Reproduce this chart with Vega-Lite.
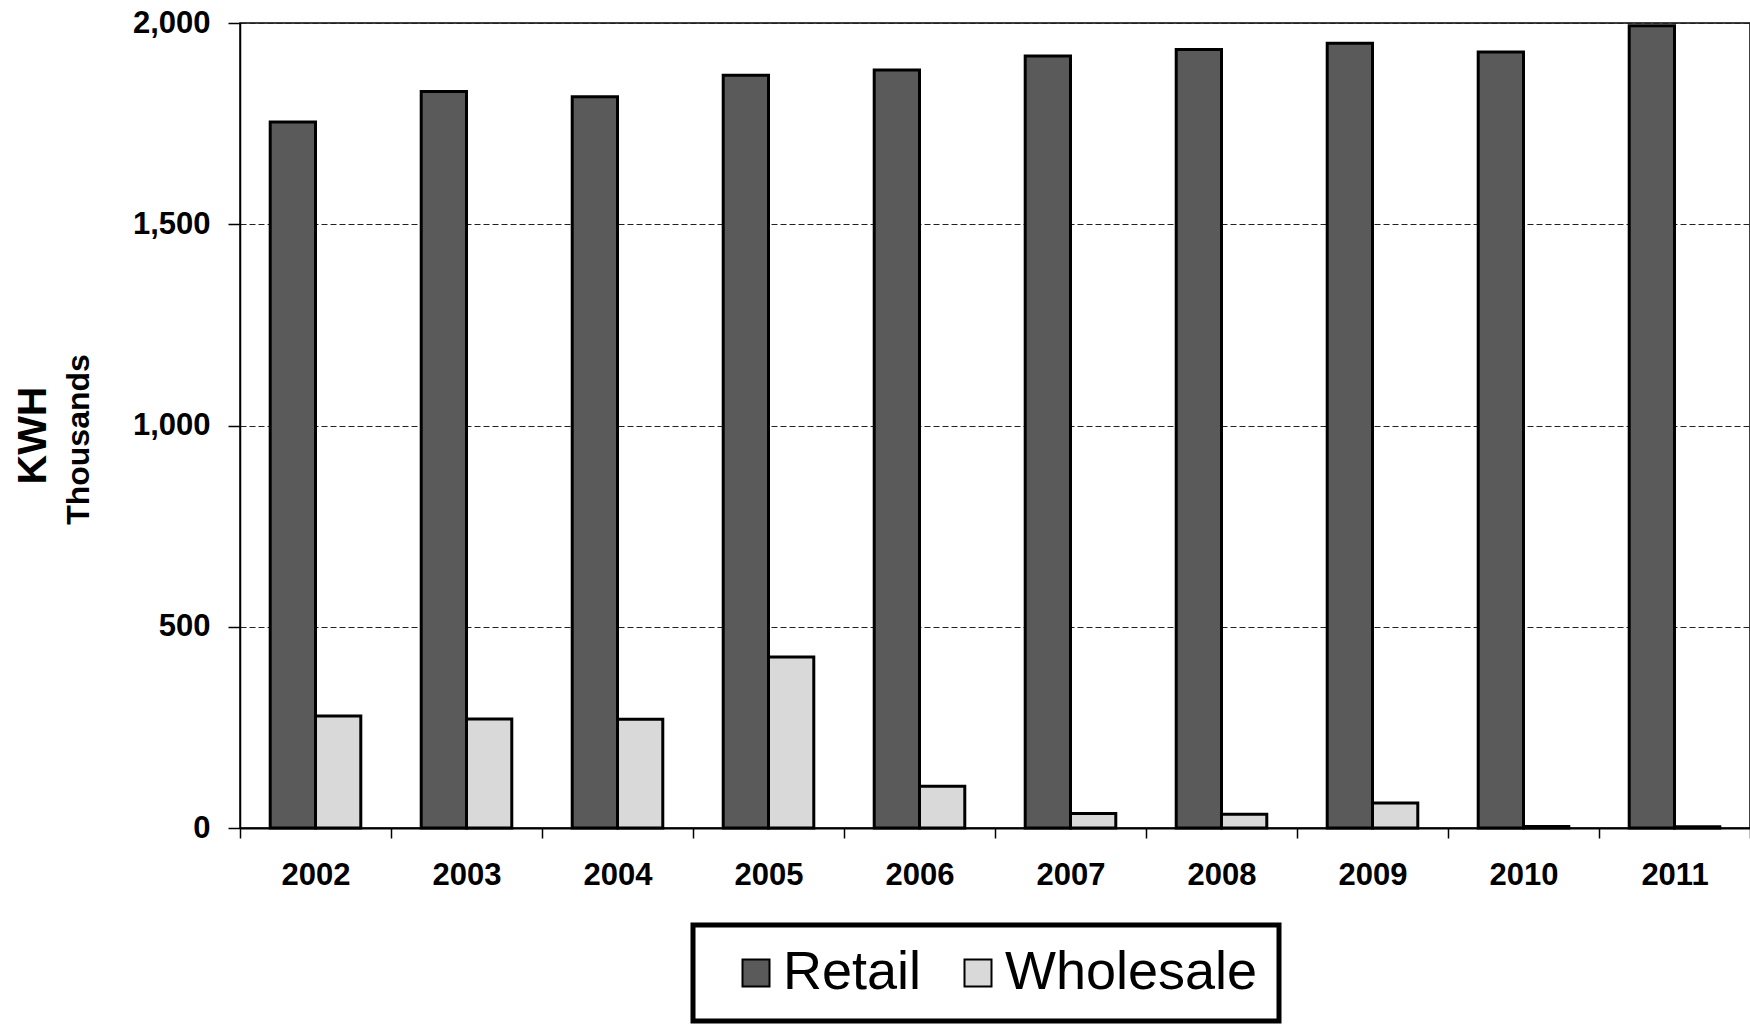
{
  "$schema": "https://vega.github.io/schema/vega-lite/v6.json",
  "autosize": {"type": "none"},
  "padding": {"left": 240, "top": 23, "right": 0, "bottom": 204},
  "width": 1510,
  "height": 805,
  "background": "white",
  "config": {
    "font": "Liberation Sans",
    "view": {"stroke": "black", "strokeWidth": 1.5},
    "axis": {"domainColor": "black", "tickColor": "black", "labelColor": "black", "titleColor": "black"}
  },
  "data": {
    "values": [
      {"year": "2002", "type": "Retail", "kwh": 1754},
      {"year": "2002", "type": "Wholesale", "kwh": 278},
      {"year": "2003", "type": "Retail", "kwh": 1830},
      {"year": "2003", "type": "Wholesale", "kwh": 271},
      {"year": "2004", "type": "Retail", "kwh": 1817},
      {"year": "2004", "type": "Wholesale", "kwh": 270},
      {"year": "2005", "type": "Retail", "kwh": 1870},
      {"year": "2005", "type": "Wholesale", "kwh": 425},
      {"year": "2006", "type": "Retail", "kwh": 1883},
      {"year": "2006", "type": "Wholesale", "kwh": 104},
      {"year": "2007", "type": "Retail", "kwh": 1918},
      {"year": "2007", "type": "Wholesale", "kwh": 36},
      {"year": "2008", "type": "Retail", "kwh": 1934},
      {"year": "2008", "type": "Wholesale", "kwh": 34},
      {"year": "2009", "type": "Retail", "kwh": 1950},
      {"year": "2009", "type": "Wholesale", "kwh": 62},
      {"year": "2010", "type": "Retail", "kwh": 1928},
      {"year": "2010", "type": "Wholesale", "kwh": 4},
      {"year": "2011", "type": "Retail", "kwh": 1993},
      {"year": "2011", "type": "Wholesale", "kwh": 3}
    ]
  },
  "encoding": {
    "x": {
      "field": "year",
      "type": "nominal",
      "scale": {"paddingInner": 0, "paddingOuter": 0},
      "axis": {
        "title": null,
        "labelAngle": 0,
        "tickBand": "extent",
        "tickSize": 10,
        "tickWidth": 1.5,
        "domainWidth": 2,
        "labelFontSize": 31,
        "labelFontWeight": "bold",
        "labelPadding": 22
      }
    },
    "xOffset": {
      "field": "type",
      "scale": {"domain": ["Retail", "Wholesale"], "paddingInner": 0, "paddingOuter": 0.667}
    },
    "y": {
      "field": "kwh",
      "type": "quantitative",
      "scale": {"domain": [0, 2000], "nice": false}
    }
  },
  "layer": [
    {
      "mark": {"type": "bar", "stroke": "black", "strokeWidth": 3},
      "encoding": {
        "y": {
          "field": "kwh",
          "type": "quantitative",
          "axis": {
            "orient": "left",
            "values": [0, 500, 1000, 1500, 2000],
            "format": ",.0f",
            "grid": true,
            "gridColor": "#222222",
            "gridDash": [6, 3],
            "gridWidth": 1,
            "domainWidth": 1.5,
            "tickSize": 12,
            "tickWidth": 1.5,
            "labelFontSize": 31,
            "labelFontWeight": "bold",
            "labelPadding": 18,
            "title": "Thousands",
            "titleFontSize": 32,
            "titleFontWeight": "bold",
            "titlePadding": 37,
            "titleY": 416
          }
        },
        "color": {
          "field": "type",
          "type": "nominal",
          "scale": {"domain": ["Retail", "Wholesale"], "range": ["#5a5a5a", "#d9d9d9"]},
          "legend": {
            "title": null,
            "orient": "none",
            "direction": "horizontal",
            "legendX": 453,
            "legendY": 902,
            "strokeColor": "black",
            "padding": 21,
            "symbolType": "square",
            "symbolSize": 729,
            "symbolOffset": 15,
            "symbolStrokeColor": "black",
            "symbolStrokeWidth": 2,
            "symbolOpacity": 1,
            "labelFontSize": 54,
            "labelFont": "Liberation Sans",
            "labelColor": "black",
            "labelLimit": 500,
            "labelOffset": 0,
            "columnPadding": 14,
            "encode": {
              "legend": {"update": {"strokeWidth": {"value": 5}}}
            }
          }
        }
      }
    },
    {
      "mark": {"type": "bar", "opacity": 0},
      "encoding": {
        "y": {
          "field": "kwh",
          "type": "quantitative",
          "axis": {
            "orient": "left",
            "labels": false,
            "ticks": false,
            "domain": false,
            "grid": false,
            "title": "KWH",
            "titleFontSize": 41,
            "titleFontWeight": "bold",
            "titlePadding": 186,
            "titleY": 412
          }
        }
      }
    }
  ],
  "resolve": {"axis": {"y": "independent"}}
}
